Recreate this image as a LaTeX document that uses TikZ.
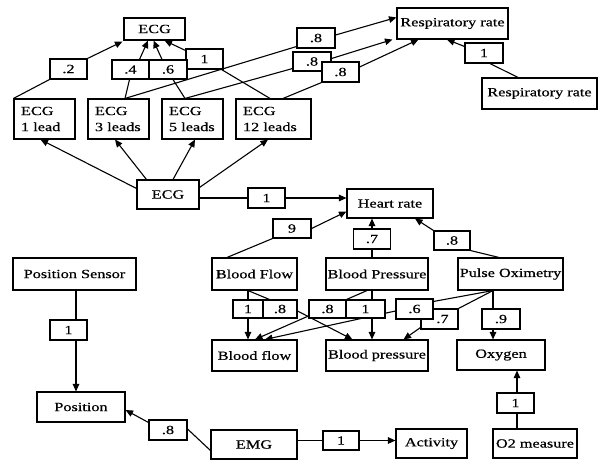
\documentclass[tikz,border=0pt]{standalone}
\usepackage{fontspec}
\setmainfont[FakeStretch=1.3,FakeBold=0.6]{Liberation Serif}
\usetikzlibrary{arrows.meta,calc}
\pgfdeclarelayer{bg}
\pgfsetlayers{bg,main}
\newcommand{\lblfont}{\fontsize{12.5}{16}\selectfont}
\tikzset{
  box/.style={draw, fill=white, line width=1.1pt, inner sep=0pt, align=center, font=\lblfont},
  twoline/.style={box, align=left},
  link/.style={line width=1.1pt},
  arr/.style={line width=1.1pt, -{Triangle[length=7.5pt,width=6.5pt]}}
}
\begin{document}
\begin{tikzpicture}[x=1pt,y=-1pt]
\useasboundingbox (0,0) rectangle (601,461);

% ---- ECG part ----
\node[box, minimum width=61pt, minimum height=22pt] (ecgTop) at (154.5,29) {ECG};
\node[box, minimum width=37pt, minimum height=20pt] (l2) at (68.5,69) {.2};
\node[box, minimum width=37pt, minimum height=20pt] (l1e) at (204.5,59) {1};
\node[box, minimum width=37pt, minimum height=19pt] (l4) at (130.5,69.5) {.4};
\node[box, minimum width=38pt, minimum height=19pt] (l6) at (168,69.5) {.6};

\node[twoline, minimum width=61pt, minimum height=40pt, text width=47pt] (e1) at (44.5,119) {ECG\\1 lead};
\node[twoline, minimum width=61pt, minimum height=40pt, text width=47pt] (e3) at (118.5,119) {ECG\\3 leads};
\node[twoline, minimum width=61pt, minimum height=40pt, text width=47pt] (e5) at (192.5,119) {ECG\\5 leads};
\node[twoline, minimum width=75pt, minimum height=40pt, text width=61pt] (e12) at (273.5,119) {ECG\\12 leads};

\node[box, minimum width=62pt, minimum height=29pt] (ecgMid) at (168,194.5) {ECG};
\node[box, minimum width=37pt, minimum height=20pt] (h1) at (266.5,198) {1};

% ---- respiratory rate ----
\node[box, minimum width=111pt, minimum height=31pt] (rrTop) at (452.5,23.5) {Respiratory rate};
\node[box, minimum width=38pt, minimum height=20pt] (r8a) at (316,38) {.8};
\node[box, minimum width=38pt, minimum height=19pt] (r8b) at (312,61.5) {.8};
\node[box, minimum width=37pt, minimum height=20pt] (r8c) at (340.5,72) {.8};
\node[box, minimum width=38pt, minimum height=20pt] (r1) at (484,53) {1};
\node[box, minimum width=115pt, minimum height=31pt] (rrBot) at (539.5,93.5) {Respiratory rate};

% ---- heart rate ----
\node[box, minimum width=86pt, minimum height=29pt] (hr) at (390,203.5) {Heart rate};
\node[box, minimum width=38pt, minimum height=19pt] (h9) at (292,228.5) {9};
\node[box, minimum width=37pt, minimum height=20pt] (h7) at (372,239) {.7};
\node[box, minimum width=36pt, minimum height=19pt] (h8) at (452,240.5) {.8};

% ---- sensors ----
\node[box, minimum width=123pt, minimum height=32pt] (ps) at (74.5,274) {Position Sensor};
\node[box, minimum width=85pt, minimum height=32pt] (bfS) at (254.5,274) {Blood Flow};
\node[box, minimum width=102pt, minimum height=32pt] (bpS) at (377,274) {Blood Pressure};
\node[box, minimum width=105pt, minimum height=32pt] (po) at (510.5,274) {Pulse Oximetry};

% ---- weights between sensors and measures ----
\node[box, minimum width=30pt, minimum height=18pt] (f1) at (248,309) {1};
\node[box, minimum width=34pt, minimum height=18pt] (f8) at (280,309) {.8};
\node[box, minimum width=37pt, minimum height=18pt] (p8) at (327.5,309) {.8};
\node[box, minimum width=39pt, minimum height=18pt] (p1) at (365.5,309) {1};
\node[box, minimum width=37pt, minimum height=20pt] (o7) at (439.5,319) {\hspace*{6pt}.7};
\node[box, minimum width=37pt, minimum height=20pt] (o6) at (414.5,309) {.6};
\node[box, minimum width=38pt, minimum height=20pt] (o9) at (501,319) {.9};

% ---- measures ----
\node[box, minimum width=85pt, minimum height=31pt] (bf) at (254.5,355.5) {Blood flow};
\node[box, minimum width=102pt, minimum height=31pt] (bp) at (377,355.5) {Blood pressure};
\node[box, minimum width=88pt, minimum height=30pt] (ox) at (501,355) {Oxygen};

% ---- bottom row ----
\node[box, minimum width=37pt, minimum height=20pt] (ps1) at (68.5,330) {1};
\node[box, minimum width=88pt, minimum height=30pt] (pos) at (81,407) {Position};
\node[box, minimum width=38pt, minimum height=20pt] (e8) at (168,430) {.8};
\node[box, minimum width=86pt, minimum height=29pt] (emg) at (254,444.5) {EMG};
\node[box, minimum width=36pt, minimum height=19pt] (a1) at (341,440.5) {1};
\node[box, minimum width=71pt, minimum height=29pt] (act) at (431.5,443.5) {Activity};
\node[box, minimum width=37pt, minimum height=20pt] (o1) at (515.5,403) {1};
\node[box, minimum width=84pt, minimum height=29pt] (o2) at (535,443.5) {O2 measure};

% coordinates on the box borders where connectors meet
\coordinate (e3top) at ($(e3.north)+(6.5,0)$);
\coordinate (e5top) at ($(e5.north)+(-7.5,0)$);
\coordinate (poBot) at ($(po.south)+(-17.5,0)$);
\coordinate (bfBot) at (f1.north |- bfS.south);
\coordinate (bpBot) at ($(bpS.south)+(-5,0)$);
\coordinate (psBot) at ($(ps.south)+(1.5,0)$);
\coordinate (o2Top) at ($(o2.north)+(-18,0)$);

\begin{pgfonlayer}{bg}
% ECG leads to ECG
\draw[link] (e1.north west) -- (l2.south west);
\draw[arr] (l2.north east) -- ($(ecgTop.south west)+(-1,1)$);
\draw[link] (e3top) -- ($(l4.south)+(-1,0)$);
\draw[arr] ($(l4.north)+(9,0)$) -- ($(ecgTop.south)+(-6.5,0)$);
\draw[link] (e5top) -- ($(l6.south)+(5,0)$);
\draw[arr] ($(l6.north)+(-6,0)$) -- ($(ecgTop.south)+(-1,0)$);
\draw[link] ($(e12.north)+(-3.5,0)$) -- ($(l1e.south east)+(-2,0)$);
\draw[arr] ($(l1e.north west)+(0,2)$) -- ($(ecgTop.south)+(10,0)$);

% ECG leads to respiratory rate
\draw[link] (e3top) -- ($(r8a.south west)+(0,-2)$);
\draw[arr] ($(r8a.east)+(0,-3)$) -- ($(rrTop.north west)+(0,10)$);
\draw[link] (e5top) -- ($(r8b.south west)+(0,-3)$);
\draw[arr] ($(r8b.east)+(0,-3)$) -- ($(rrTop.south west)+(-4,0)$);
\draw[link] ($(e12.north)+(9.5,0)$) -- (r8c.south west);
\draw[arr] ($(r8c.east)+(0,-5)$) -- ($(rrTop.south)+(-34,0)$);
\draw[link] ($(rrBot.north)+(-21.5,0)$) -- ($(r1.south)+(6,0)$);
\draw[arr] ($(r1.north west)+(0,4)$) -- ($(rrTop.south)+(-5.5,0)$);

% ECG to ECG leads
\draw[arr] ($(ecgMid.north west)+(0,9)$) -- ($(e1.south)+(-4,0)$);
\draw[arr] ($(ecgMid.north west)+(10,0)$) -- ($(e3.south)+(-3.5,0)$);
\draw[arr] ($(ecgMid.north)+(5,0)$) -- ($(e5.south)+(2.5,0)$);
\draw[arr] ($(ecgMid.north east)+(0,8)$) -- ($(e12.south)+(-5.5,0)$);

% heart rate
\draw[arr] (ecgMid.east |- h1.west) -- (hr.west |- h1.east);
\draw[link] ($(bfS.north)+(-27.5,0)$) -- (h9.south west);
\draw[arr] (h9.east) -- ($(hr.south west)+(0,-7)$);
\draw[arr] (h7.south |- bpS.north) -- (h7.south |- hr.south);
\draw[link] ($(po.north)+(-11.5,0)$) -- (h8.south east);
\draw[arr] (h8.north west) -- ($(hr.south)+(25,0)$);

% sensors to measures
\draw[arr] (bfBot) -- (bfBot |- bf.north);
\draw[link] (bfBot) -- ($(f8.north west)+(7,0)$);
\draw[arr] ($(f8.east)+(0,2)$) -- ($(bp.north west)+(27,0)$);
\draw[link] ($(bpBot)+(-5,0)$) -- (p8.north east);
\draw[arr] ($(p8.south west)+(1,-3)$) -- ($(bf.north)+(0.5,0)$);
\draw[arr] (bpBot) -- (bpBot |- bp.north);
\draw[link] (poBot) -- ($(o6.north east)+(0,3)$);
\draw[arr] ($(o6.west)+(0,2)$) -- ($(bf.north)+(10.5,0)$);
\draw[link] (poBot) -- (o7.north east);
\draw[arr] ($(o7.south west)+(0,-2)$) -- ($(bp.north east)+(-25,0)$);
\draw[arr] (poBot) -- (poBot |- ox.north);

% position and activity
\draw[arr] (psBot) -- (psBot |- pos.north);
\draw[link] ($(emg.west)+(0,6)$) -- ($(e8.east)+(0,-1)$);
\draw[arr] ($(e8.north west)+(0,3)$) -- ($(pos.east)+(0,3)$);
\draw[arr] (emg.east |- a1.west) -- (act.west |- a1.east);
\draw[arr] (o2Top) -- (o2Top |- ox.south);
\end{pgfonlayer}
\end{tikzpicture}
\end{document}
